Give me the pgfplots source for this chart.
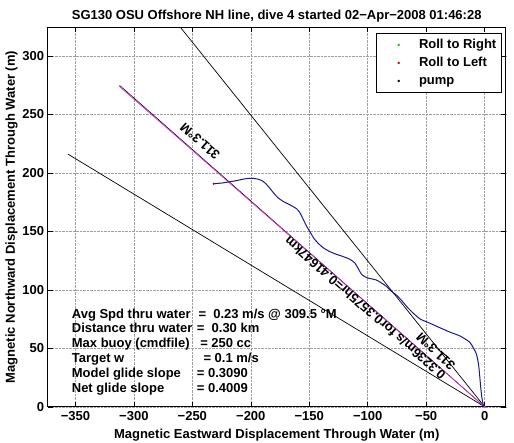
\documentclass[border=0pt]{standalone}
\usepackage{fontspec}
\setmainfont{Liberation Sans}
\usepackage{pgfplots}
\pgfplotsset{compat=1.18}
\definecolor{trk}{rgb}{0.1,0.1,0.55}
\definecolor{mag}{rgb}{0.85,0.2,0.85}
\newcommand{\ff}{\fontsize{13}{15}\selectfont\bfseries}
\begin{document}
\begin{tikzpicture}
\begin{axis}[
  scale only axis, width=458pt, height=379.5pt,
  xmin=-373.7, xmax=18, ymin=0, ymax=324.6,
  xtick={-350,-300,-250,-200,-150,-100,-50,0},
  xticklabels={−350,−300,−250,−200,−150,−100,−50,0},
  ytick={0,50,100,150,200,250,300},
  yticklabels={0,50,100,150,200,250,300},
  tick align=inside, major tick length=5pt,
  grid=major, grid style={densely dotted, gray!75, line width=0.5pt},
  axis line style={line width=0.8pt},
  every tick/.style={black, line width=0.6pt},
  ticklabel style={font=\ff},
  xticklabel style={yshift=-1.5pt},
  legend style={at={(0.991,0.984)}, anchor=north east, draw=black, line width=0.6pt,
     fill=white, font=\ff, inner xsep=4pt, inner ysep=4pt, row sep=3.5pt,
     nodes={inner sep=1pt, text height=9.5pt, text depth=3pt, anchor=west}},
  legend cell align=left,
  legend image code/.code={\draw[#1] plot coordinates {(17.7pt,0pt)}; \path (0pt,0pt) (36.7pt,0pt);},
]
\addlegendimage{only marks, mark=*, mark size=0.9pt, green!80!black}
\addlegendentry{Roll to Right}
\addlegendimage{only marks, mark=*, mark size=0.9pt, red!80!black}
\addlegendentry{Roll to Left}
\addlegendimage{only marks, mark=*, mark size=0.9pt, black}
\addlegendentry{pump}

\addplot[forget plot, black, line width=0.7pt] coordinates {(0,0) (-265,330.6)};
\addplot[forget plot, black, line width=0.7pt] coordinates {(0,0) (-356.3,216.1)};
\addplot[forget plot, black, line width=0.6pt] coordinates {(0,0) (-312.2,274.9)};
\addplot[forget plot, mag, line width=0.7pt] coordinates {(0,0) (-312.7,274.3)};

\addplot[forget plot, trk, line width=1.0pt, smooth, tension=0.4] coordinates {
(0,0) (-1.2,1.7) (-2.5,8.8) (-3.5,18) (-4.2,26) (-5.2,36) (-7.0,45) (-9.7,50.5)
(-13,55.5) (-21,60.5) (-30,64) (-38,67.5) (-48,72) (-55,75) (-61,80) (-66,85)
(-71.5,91.5) (-76,96) (-80,99) (-84,103) (-90,107) (-93,108.6) (-97,109.5)
(-101,110.5) (-105,113) (-108,118) (-111,123) (-115,126) (-121,128.5)
(-127,130.5) (-133,133) (-138,136) (-142,139.5) (-146,144) (-149,149)
(-152,154) (-155,160) (-158,166) (-161,169.5) (-167,173) (-172,175.5)
(-177,179) (-181,183.5) (-185,188.5) (-189,192.5) (-193,194.5) (-199,195.5)
(-205,195) (-212,193.5) (-218,192.5) (-224,191.5) (-231.7,190.8)};
\addplot[forget plot, only marks, mark=*, mark size=0.8pt, red!80!black] coordinates {(-231.7,190.8)};
\addplot[forget plot, only marks, mark=*, mark size=0.8pt, mag] coordinates {(0,0)};

\node[rotate=138.75, font=\ff, inner sep=0pt] at (axis cs:-243.4,226.9) {311.3°M};
\node[rotate=138.75, font=\ff, inner sep=0pt] at (axis cs:-102.3,84.4) {0.3236m/s for0.3575hr=0.41647km};
\node[rotate=136.5, font=\ff, inner sep=0pt] at (axis cs:-41.8,47.3) {311.3°M};

\begin{scope}[every node/.style={font=\ff, inner sep=0pt}]
\node[anchor=base west] at (axis cs:-353.2,75.9) {Avg Spd thru water};
\node[anchor=base west] at (axis cs:-244.9,75.9) {=\ \ 0.23 m/s @ 309.5 °M};
\node[anchor=base west] at (axis cs:-353.2,63.2) {Distance thru water};
\node[anchor=base west] at (axis cs:-246.3,63.2) {=\ \ 0.30 km};
\node[anchor=base west] at (axis cs:-353.2,50.5) {Max buoy (cmdfile)};
\node[anchor=base west] at (axis cs:-243.4,50.5) {= 250 cc};
\node[anchor=base west] at (axis cs:-353.2,37.9) {Target w};
\node[anchor=base west] at (axis cs:-240.6,37.9) {= 0.1 m/s};
\node[anchor=base west] at (axis cs:-353.2,25.2) {Model glide slope};
\node[anchor=base west] at (axis cs:-246.3,25.2) {= 0.3090};
\node[anchor=base west] at (axis cs:-353.2,12.6) {Net glide slope};
\node[anchor=base west] at (axis cs:-246.3,12.6) {= 0.4009};
\end{scope}

\coordinate (SW) at (rel axis cs:0,0);
\coordinate (NE) at (rel axis cs:1,1);
\coordinate (T) at (rel axis cs:0.5,1);
\coordinate (B) at (rel axis cs:0.5,0);
\coordinate (L) at (rel axis cs:0,0.5);
\end{axis}
\node[font=\ff, anchor=base, inner sep=0pt] at ([yshift=7.9pt]T) {SG130 OSU Offshore NH line, dive 4 started 02−Apr−2008 01:46:28};
\node[font=\ff, anchor=base, inner sep=0pt] at ([yshift=-32pt]B) {Magnetic Eastward Displacement Through Water (m)};
\node[font=\ff, anchor=base, inner sep=0pt, rotate=90] at ([xshift=-32.7pt]L) {Magnetic Northward Displacement Through Water (m)};
\pgfresetboundingbox
\path ([shift={(-47.7pt,-35.2pt)}]SW) rectangle ([shift={(8.3pt,27.3pt)}]NE);
\end{tikzpicture}
\end{document}
